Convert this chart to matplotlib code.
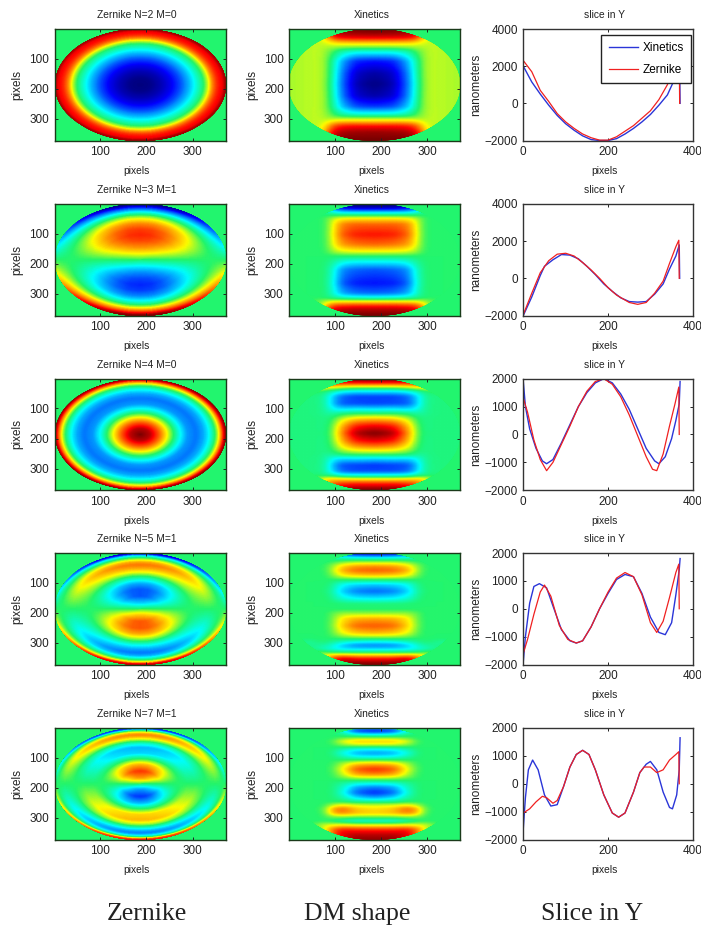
import numpy as np
import matplotlib
matplotlib.use("Agg")
import matplotlib.pyplot as plt
from matplotlib.colors import LinearSegmentedColormap
from matplotlib.patches import Circle

plt.rcParams["font.family"] = ["Liberation Sans", "DejaVu Sans"]

# surface values are on a -1 (dark blue) .. 1 (dark red) colour scale
titles = ["Zernike N=2 M=0", "Zernike N=3 M=1", "Zernike N=4 M=0", "Zernike N=5 M=1", "Zernike N=7 M=1"]

# Zernike column: values read along a radius, 1 = edge of the ellipse
radii = [0, .12, .24, .36, .46, .56, .66, .74, .80, .85, .89, .92, .95, .975, 1, 1.06]
z_n2 = [-1, -.98, -.9, -.78, -.62, -.42, -.2, -.02, .2, .48, .62, .7, .74, .78, .92, .92]
z_n3 = [0, .25, .47, .62, .68, .63, .48, .27, .07, -.14, -.34, -.5, -.67, -.83, -1, -1]
z_n4 = [1, .87, .52, .12, -.2, -.45, -.52, -.42, -.28, -.12, .05, .22, .45, .68, .95, .95]
z_n5 = [0, -.34, -.58, -.58, -.42, -.12, .22, .42, .52, .42, .22, .05, -.15, -.4, -.85, -.85]
z_n7 = [0, .45, .65, .38, 0, -.33, -.39, -.15, .16, .38, .5, .38, .15, -.1, -.7, -.7]
# how the radial values change going from the top (0 deg) round to the bottom (180 deg)
angles = [0, 15, 30, 45, 60, 75, 90, 105, 120, 135, 150, 165, 180]
round_m0 = [1, 1, 1, 1, 1, 1, 1, 1, 1, 1, 1, 1, 1]
round_m1 = [1, .97, .87, .71, .5, .26, 0, -.26, -.5, -.71, -.87, -.97, -1]

# DM column: rows at the listed y pixels, columns at distance from the centre line
dm_dist = [0, 40, 70, 90, 105, 120, 140, 186]

dm1_y = [0, 14, 30, 42, 52, 62, 78, 110, 150, 186, 225, 260, 285, 298, 310, 325, 345, 372]
dm1 = [
    [1, 1, .98, .9, .6, .2, .17, .15],
    [.97, .95, .92, .85, .5, .2, .17, .15],
    [.8, .8, .78, .7, .35, .18, .17, .15],
    [.5, .5, .48, .42, .25, .18, .17, .15],
    [.27, .27, .27, .25, .2, .18, .17, .15],
    [.12, .12, .13, .15, .16, .18, .17, .15],
    [-.2, -.2, -.12, .03, .13, .18, .17, .15],
    [-.72, -.68, -.42, -.1, .12, .18, .17, .15],
    [-.93, -.85, -.52, -.12, .12, .18, .17, .15],
    [-1, -.9, -.55, -.15, .12, .18, .17, .15],
    [-.92, -.84, -.52, -.12, .12, .18, .17, .15],
    [-.65, -.6, -.38, -.08, .12, .18, .17, .15],
    [-.2, -.2, -.12, .02, .13, .18, .17, .15],
    [.1, .1, .1, .12, .15, .18, .17, .15],
    [.35, .35, .35, .3, .2, .18, .17, .15],
    [.72, .72, .7, .6, .3, .18, .17, .15],
    [.93, .92, .9, .8, .45, .2, .17, .15],
    [1, 1, 1, .95, .6, .2, .17, .15],
]

dm2_y = [0, 12, 24, 34, 42, 52, 70, 104, 137, 160, 176, 199, 221, 266, 299, 314, 325, 338, 350, 372]
dm2 = [
    [-1, -1, -.95, -.7, -.15, 0, 0, 0],
    [-.95, -.95, -.85, -.6, -.15, 0, 0, 0],
    [-.55, -.55, -.5, -.35, -.1, 0, 0, 0],
    [-.15, -.15, -.15, -.1, -.03, 0, 0, 0],
    [.05, .05, .05, .03, 0, 0, 0, 0],
    [.3, .3, .28, .2, .03, 0, 0, 0],
    [.55, .55, .5, .25, .03, 0, 0, 0],
    [.72, .7, .58, .27, .03, 0, 0, 0],
    [.55, .52, .45, .24, .03, 0, 0, 0],
    [.25, .25, .22, .15, .02, 0, 0, 0],
    [0, 0, 0, 0, 0, 0, 0, 0],
    [-.3, -.3, -.25, -.1, -.02, 0, 0, 0],
    [-.58, -.55, -.48, -.18, -.03, 0, 0, 0],
    [-.72, -.7, -.58, -.22, -.03, 0, 0, 0],
    [-.55, -.52, -.42, -.18, -.02, 0, 0, 0],
    [-.2, -.18, -.15, -.08, -.01, 0, 0, 0],
    [.2, .2, .2, .2, .15, .08, 0, 0],
    [.6, .6, .58, .55, .35, .05, 0, 0],
    [.85, .85, .82, .78, .5, .1, 0, 0],
    [1, 1, 1, .95, .6, .1, 0, 0],
]

dm3_y = [0, 10, 18, 28, 37, 46, 62, 85, 104, 118, 132, 146, 162, 184, 208, 228, 244, 256, 268, 290, 310, 324, 336, 350, 362, 372]
dm3 = [
    [1, 1, .95, .6, .1, -.02, -.03, -.03],
    [.9, .9, .85, .7, .35, .05, -.03, -.03],
    [.65, .65, .65, .65, .45, .1, -.03, -.03],
    [.25, .25, .28, .35, .35, .2, -.03, -.03],
    [-.05, -.05, 0, .1, .15, .15, -.03, -.03],
    [-.3, -.3, -.25, -.15, -.05, .02, -.03, -.03],
    [-.62, -.62, -.55, -.35, -.12, -.04, -.03, -.03],
    [-.62, -.6, -.58, -.38, -.12, -.04, -.03, -.03],
    [-.28, -.26, -.3, -.25, -.1, -.04, -.03, -.03],
    [0, 0, -.03, -.1, -.08, -.04, -.03, -.03],
    [.28, .25, .15, 0, -.05, -.03, -.03, -.03],
    [.55, .5, .3, .05, -.05, -.03, -.03, -.03],
    [.8, .72, .42, .1, -.05, -.03, -.03, -.03],
    [1, .9, .5, .12, -.04, -.03, -.03, -.03],
    [.8, .72, .42, .1, -.05, -.03, -.03, -.03],
    [.5, .45, .28, .05, -.05, -.03, -.03, -.03],
    [.22, .2, .12, 0, -.05, -.03, -.03, -.03],
    [0, 0, -.02, -.08, -.08, -.03, -.03, -.03],
    [-.3, -.28, -.3, -.25, -.1, -.04, -.03, -.03],
    [-.65, -.62, -.6, -.4, -.12, -.04, -.03, -.03],
    [-.6, -.6, -.55, -.35, -.12, -.04, -.03, -.03],
    [-.2, -.2, -.18, -.08, -.04, 0, -.03, -.03],
    [.25, .25, .28, .32, .3, .15, -.03, -.03],
    [.65, .65, .62, .55, .4, .1, -.03, -.03],
    [.85, .85, .8, .7, .35, .05, -.03, -.03],
    [1, 1, .95, .6, .1, 0, -.03, -.03],
]

dm4_y = [0, 10, 22, 34, 46, 60, 76, 92, 108, 130, 152, 172, 190, 205, 222, 245, 268, 285, 298, 310, 322, 335, 345, 355, 372]
dm4 = [
    [-.9, -.9, -.8, -.4, -.05, 0, 0, 0],
    [-.6, -.55, -.4, -.2, -.03, 0, 0, 0],
    [-.1, -.1, -.08, -.05, 0, 0, 0, 0],
    [.18, .18, .12, .04, 0, 0, 0, 0],
    [.45, .42, .32, .14, .02, 0, 0, 0],
    [.58, .55, .42, .18, .02, 0, 0, 0],
    [.38, .35, .28, .12, .01, 0, 0, 0],
    [0, 0, 0, 0, 0, 0, 0, 0],
    [-.35, -.32, -.25, -.08, 0, 0, 0, 0],
    [-.55, -.5, -.35, -.12, -.02, 0, 0, 0],
    [-.3, -.28, -.2, -.08, 0, 0, 0, 0],
    [-.02, -.02, -.02, 0, 0, 0, 0, 0],
    [0, 0, 0, 0, 0, 0, 0, 0],
    [.15, .15, .15, .08, 0, 0, 0, 0],
    [.42, .4, .3, .1, 0, 0, 0, 0],
    [.58, .55, .35, .12, 0, 0, 0, 0],
    [.4, .36, .25, .08, 0, 0, 0, 0],
    [.08, .08, .05, .02, 0, 0, 0, 0],
    [-.25, -.22, -.15, -.08, -.02, -.02, -.08, 0],
    [-.5, -.48, -.35, -.2, -.1, -.08, -.05, 0],
    [-.3, -.3, -.28, -.22, -.15, -.1, -.03, 0],
    [.05, .05, .05, .05, .08, .1, 0, 0],
    [.42, .42, .5, .45, .3, .1, 0, 0],
    [.75, .75, .85, .65, .3, .05, 0, 0],
    [1, 1, .95, .7, .3, .05, 0, 0],
]

dm5_y = [0, 12, 24, 34, 47, 60, 72, 86, 100, 113, 125, 140, 157, 172, 186, 200, 218, 235, 248, 260, 272, 285, 298, 312, 326, 340, 355, 372]
dm5 = [
    [-.3, -.3, -.15, -.02, 0, 0, 0, 0],
    [-.75, -.65, -.2, -.03, 0, 0, 0, 0],
    [-.25, -.2, -.05, 0, 0, 0, 0, 0],
    [.08, .08, .04, 0, 0, 0, 0, 0],
    [.36, .36, .24, .05, 0, 0, 0, 0],
    [.16, .16, .1, .02, 0, 0, 0, 0],
    [-.22, -.2, -.1, -.02, 0, 0, 0, 0],
    [-.46, -.4, -.22, -.05, 0, 0, 0, 0],
    [-.22, -.2, -.1, -.02, 0, 0, 0, 0],
    [.15, .12, .06, .01, 0, 0, 0, 0],
    [.45, .4, .18, .03, 0, 0, 0, 0],
    [.68, .58, .25, .05, 0, 0, 0, 0],
    [.48, .42, .18, .03, 0, 0, 0, 0],
    [.1, .1, .05, .01, 0, 0, 0, 0],
    [-.2, -.18, -.08, -.02, 0, 0, 0, 0],
    [-.5, -.42, -.15, -.03, 0, 0, 0, 0],
    [-.68, -.55, -.2, -.03, 0, 0, 0, 0],
    [-.4, -.3, -.1, -.02, 0, 0, 0, 0],
    [-.05, -.05, 0, 0, 0, 0, 0, 0],
    [.2, .22, .28, .2, .05, 0, 0, 0],
    [.3, .35, .55, .45, .12, .01, 0, 0],
    [.35, .38, .5, .42, .1, 0, 0, 0],
    [.1, .1, .12, .1, .04, 0, 0, 0],
    [-.2, -.2, -.12, -.04, 0, 0, 0, 0],
    [.25, .25, .28, .25, .22, .15, 0, 0],
    [.65, .65, .7, .55, .3, .05, 0, 0],
    [.85, .85, .8, .6, .2, 0, 0, 0],
    [.95, .95, .8, .5, .1, 0, 0, 0],
]

# slices
row1_blue_x = [0, 20, 40, 60, 80, 100, 120, 140, 160, 180, 200, 220, 240, 260, 280, 300, 320, 340, 355, 369, 370]
row1_blue_y = [2000, 1150, 500, -100, -650, -1100, -1450, -1750, -1950, -2000, -2000, -1900, -1650, -1350, -1000, -600, -100, 450, 1200, 2100, 0]
row1_red_x = [0, 20, 40, 60, 80, 100, 120, 140, 160, 180, 200, 220, 240, 260, 280, 300, 320, 340, 355, 368, 369]
row1_red_y = [2300, 1700, 700, 100, -550, -1000, -1350, -1650, -1850, -1980, -1980, -1800, -1500, -1200, -800, -400, 200, 1000, 1900, 2500, 0]

row2_blue_x = [0, 20, 40, 50, 70, 90, 110, 130, 150, 170, 190, 210, 230, 250, 270, 290, 310, 330, 345, 360, 368, 369]
row2_blue_y = [-2000, -1000, 150, 650, 1000, 1280, 1250, 1050, 650, 200, -300, -700, -1050, -1250, -1280, -1250, -850, -300, 500, 1200, 1800, 0]
row2_red_x = [0, 20, 40, 60, 80, 100, 120, 140, 160, 180, 200, 220, 250, 270, 290, 310, 330, 345, 360, 367, 368]
row2_red_y = [-1950, -800, 300, 950, 1300, 1350, 1200, 850, 450, 0, -500, -900, -1300, -1400, -1300, -800, -150, 800, 1700, 2050, 0]

row3_blue_x = [0, 5, 15, 30, 45, 55, 70, 90, 110, 130, 150, 170, 190, 210, 230, 250, 270, 290, 310, 320, 335, 350, 360, 368, 370]
row3_blue_y = [1900, 1000, 200, -500, -950, -1050, -900, -300, 350, 1000, 1500, 1850, 2000, 1850, 1450, 900, 200, -500, -950, -1050, -800, -150, 500, 1100, 1900]
row3_red_x = [0, 10, 25, 40, 55, 70, 90, 110, 130, 150, 170, 190, 210, 230, 250, 270, 290, 305, 315, 330, 345, 358, 367, 368]
row3_red_y = [1300, 800, -200, -900, -1300, -1000, -350, 300, 1000, 1550, 1900, 2000, 1800, 1350, 700, -50, -800, -1250, -1300, -700, 300, 1100, 1700, 0]

row4_blue_x = [0, 5, 15, 25, 38, 55, 70, 90, 110, 125, 140, 160, 180, 200, 220, 240, 260, 280, 300, 320, 335, 350, 360, 368, 370]
row4_blue_y = [-1900, -1000, 200, 800, 900, 750, 100, -750, -1150, -1230, -1150, -650, 0, 550, 1050, 1230, 1150, 550, -300, -850, -930, -500, 500, 1400, 1800]
row4_red_x = [0, 10, 25, 40, 50, 65, 85, 105, 125, 140, 160, 180, 200, 220, 240, 260, 280, 300, 315, 330, 345, 360, 367, 368]
row4_red_y = [-1600, -1100, -200, 600, 850, 450, -600, -1100, -1230, -1150, -650, 0, 600, 1100, 1300, 1150, 500, -500, -850, -450, 400, 1300, 1600, 0]

row5_blue_x = [0, 5, 12, 22, 35, 50, 65, 80, 95, 110, 125, 140, 155, 170, 190, 210, 225, 240, 260, 275, 290, 300, 315, 330, 345, 352, 362, 368, 370]
row5_blue_y = [-1600, -500, 500, 850, 500, -400, -800, -750, -100, 600, 1050, 1200, 1050, 500, -400, -1050, -1200, -1050, -300, 400, 700, 800, 500, -300, -850, -900, -400, 500, 1650]
row5_red_x = [0, 15, 30, 45, 55, 70, 80, 95, 110, 125, 140, 155, 170, 190, 210, 225, 240, 260, 275, 285, 300, 315, 330, 345, 360, 367, 368]
row5_red_y = [-1050, -900, -650, -450, -500, -700, -600, -100, 600, 1050, 1200, 1050, 500, -400, -1050, -1200, -1050, -300, 400, 600, 600, 400, 500, 850, 1050, 1150, 0]

surf_cmap = LinearSegmentedColormap.from_list("dm_jet", [
    (0, "#000080"), (.125, "#0000ff"), (.375, "#00ffff"), (.5, "#22f56e"),
    (.625, "#ffff00"), (.875, "#ff0000"), (1, "#7a0000")])

W, H = 701, 926
col_left = [54.7, 289.3, 523.3]
col_width = [171, 171, 169.5]
row_top = [29, 204, 378.7, 553, 728]
row_height = 111.5
ink = "#222222"


def make_axes(col, row):
    ax = fig.add_axes([col_left[col] / W, 1 - (row_top[row] + row_height) / H,
                       col_width[col] / W, row_height / H])
    for s in ax.spines.values():
        s.set_linewidth(1.0)
        s.set_color("#1a3a1a" if col < 2 else "#333333")
    ax.tick_params(direction="in", top=True, right=True, length=2, width=.7,
                   labelsize=8.5, labelcolor=ink, color=ink, pad=4)
    return ax


def label_axes(ax, title, ylabel, ylabel_x):
    ax.set_title(title, fontsize=7.4, color=ink, pad=8, x=.48)
    ax.set_xlabel("pixels", fontsize=7.4, color=ink, labelpad=6, x=.48)
    ax.set_ylabel(ylabel, fontsize=8.5, color=ink)
    ax.yaxis.set_label_coords(ylabel_x, .5)


def setup_surface(ax, title):
    ax.set_facecolor("#22f56e")
    ax.set_xlim(1, 372)
    ax.set_ylim(372, 1)
    ax.set_xticks([100, 200, 300])
    ax.set_yticks([100, 200, 300])
    label_axes(ax, title, "pixels", -31 / 171)


def clip_round(ax, mesh):
    mesh.set_clip_path(Circle((186.5, 186.5), 185.5, transform=ax.transData))


def soften(vals, sigma, axis):
    # the source picture is soft, take the corners off the table of read values
    reach = int(3 * sigma) + 1
    kernel = np.exp(-.5 * (np.arange(-reach, reach + 1) / sigma) ** 2)
    kernel = kernel / kernel.sum()
    pad = [(0, 0), (0, 0)]
    pad[axis] = (reach, reach)
    padded = np.pad(vals, pad, mode="edge")
    return np.apply_along_axis(lambda v: np.convolve(v, kernel, mode="valid"), axis, padded)


def draw_zernike(ax, profile, around):
    r_fine = np.arange(0, 1.06, .004)
    half = np.arange(0, 181, 3.0)
    prof = np.interp(r_fine, radii, profile)
    prof = soften(prof[None, :], 2.5, 1)[0]
    weight = np.interp(half, angles, around)
    theta = np.deg2rad(np.concatenate([half, 360 - half[-2::-1]]))
    weight = np.concatenate([weight, weight[-2::-1]])
    r, t = np.meshgrid(r_fine, theta, indexing="ij")
    x = 186.5 + 185.5 * r * np.sin(t)
    y = 186.5 - 185.5 * r * np.cos(t)
    mesh = ax.pcolormesh(x, y, np.outer(prof, weight), shading="gouraud",
                         cmap=surf_cmap, vmin=-1, vmax=1)
    clip_round(ax, mesh)


def draw_dm(ax, ys, table):
    table = np.array(table)
    d_fine = np.arange(0, 187, 3.0)
    y_fine = np.arange(0, 373, 2.0)
    by_x = np.array([np.interp(d_fine, dm_dist, row) for row in table])
    fine = np.array([np.interp(y_fine, ys, col) for col in by_x.T]).T
    fine = np.hstack([fine[:, :0:-1], fine])
    fine = soften(fine, 2.0, 0)
    fine = soften(fine, 3.0, 1)
    xs = np.concatenate([186.5 - d_fine[:0:-1], 186.5 + d_fine])
    mesh = ax.pcolormesh(xs, y_fine, fine, shading="gouraud", cmap=surf_cmap, vmin=-1, vmax=1)
    clip_round(ax, mesh)


fig = plt.figure(figsize=(W / 100, H / 100), dpi=100)

zernike_profiles = [z_n2, z_n3, z_n4, z_n5, z_n7]
zernike_round = [round_m0, round_m1, round_m0, round_m1, round_m1]
dm_rows = [dm1_y, dm2_y, dm3_y, dm4_y, dm5_y]
dm_tables = [dm1, dm2, dm3, dm4, dm5]
slices = [
    (row1_blue_x, row1_blue_y, row1_red_x, row1_red_y),
    (row2_blue_x, row2_blue_y, row2_red_x, row2_red_y),
    (row3_blue_x, row3_blue_y, row3_red_x, row3_red_y),
    (row4_blue_x, row4_blue_y, row4_red_x, row4_red_y),
    (row5_blue_x, row5_blue_y, row5_red_x, row5_red_y),
]
slice_top = [4000, 4000, 2000, 2000, 2000]

for i in range(5):
    ax = make_axes(0, i)
    setup_surface(ax, titles[i])
    draw_zernike(ax, zernike_profiles[i], zernike_round[i])

    ax = make_axes(1, i)
    setup_surface(ax, "Xinetics")
    draw_dm(ax, dm_rows[i], dm_tables[i])

    ax = make_axes(2, i)
    bx, by, rx, ry = slices[i]
    ax.plot(bx, by, color="#2a35d8", lw=1.0, label="Xinetics")
    ax.plot(rx, ry, color="#f02020", lw=.9, label="Zernike")
    ax.set_xlim(0, 400)
    ax.set_ylim(-2000, slice_top[i])
    ax.set_xticks([0, 200, 400])
    ax.set_yticks(np.arange(-2000, slice_top[i] + 1, 2000 if slice_top[i] == 4000 else 1000))
    label_axes(ax, "slice in Y", "nanometers", -41 / 169.5)
    if i == 0:
        ax.legend(loc="upper right", fontsize=8.5, fancybox=False, framealpha=1, edgecolor="#222222",
                  bbox_to_anchor=(.99, .95), borderaxespad=0, handlelength=2.5, labelspacing=.9,
                  borderpad=.6, handletextpad=.4)

for x, label in zip([147, 357, 592], ["Zernike", "DM shape", "Slice in Y"]):
    fig.text(x / W, 1 - 914 / H, label, family="Liberation Serif", fontsize=18.5,
             color="#222222", ha="center", va="center")

fig.savefig("out.png", dpi=100)
